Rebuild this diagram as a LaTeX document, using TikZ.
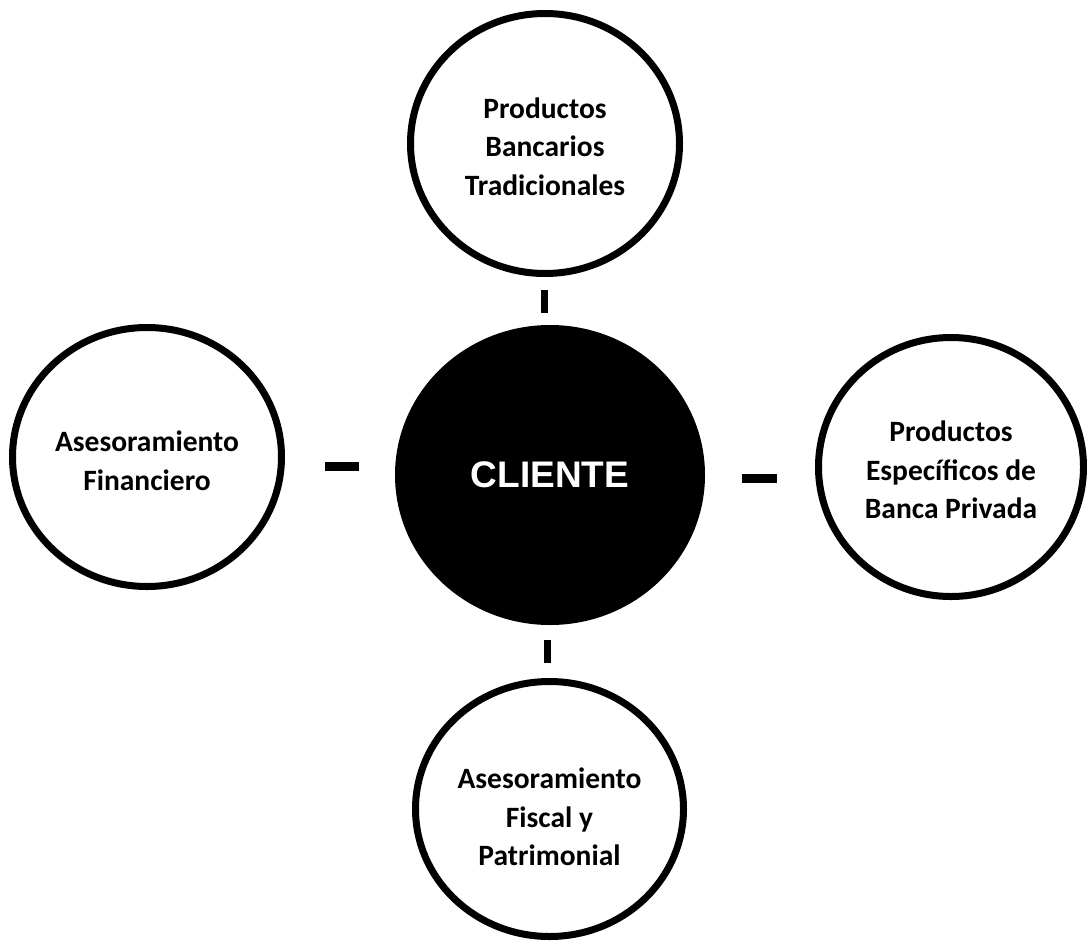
\documentclass[tikz,border=0pt]{standalone}
\usepackage{fontspec}
\setmainfont{Carlito}
\newfontfamily\clientfont{Liberation Sans}
\usetikzlibrary{shapes.geometric}
\begin{document}
\begin{tikzpicture}[x=1pt,y=-1pt,
  topic/.style={ellipse, draw=black, line width=7pt, fill=white, inner sep=0pt},
  topictext/.style={align=center, inner sep=0pt, font=\fontsize{29.5}{38.5}\selectfont\bfseries},
  core/.style={ellipse, fill=black, draw=none, inner sep=0pt, text=white,
    font=\clientfont\fontsize{37}{40}\selectfont\bfseries},
  linkv/.style={line width=7pt},
  linkh/.style={line width=9pt}]
\useasboundingbox (0,0) rectangle (1087,940);
\node[core, minimum width=310pt, minimum height=300pt] (c) at (550,475) {CLIENTE};
\node[topic, minimum width=269pt, minimum height=260pt] (t) at (545,143.5) {};
\node[topic, minimum width=269pt, minimum height=259pt] (l) at (147,457) {};
\node[topic, minimum width=265pt, minimum height=259pt] (r) at (951,467) {};
\node[topic, minimum width=268pt, minimum height=255pt] (b) at (549.5,809) {};
\node[topictext] (tt) at ([yshift=-3pt]t.center) {Productos\\Bancarios\\Tradicionales};
\node[topictext] (lt) at ([yshift=-4pt]l.center) {Asesoramiento\\Financiero};
\node[topictext] (rt) at ([yshift=-3pt]r.center) {Productos\\Específicos de\\Banca Privada};
\node[topictext] (bt) at ([yshift=-8pt]b.center) {Asesoramiento\\Fiscal y\\Patrimonial};
\coordinate (tc1) at (544.5,290);
\coordinate (tc2) at (544.5,313);
\coordinate (bc1) at (547.5,640);
\coordinate (bc2) at (547.5,663);
\coordinate (lc1) at (325,466);
\coordinate (lc2) at (359,466);
\coordinate (rc1) at (742,478.5);
\coordinate (rc2) at (777,478.5);
\draw[linkv] (tc1) -- (tc2);
\draw[linkv] (bc1) -- (bc2);
\draw[linkh] (lc1) -- (lc2);
\draw[linkh] (rc1) -- (rc2);
\end{tikzpicture}
\end{document}
